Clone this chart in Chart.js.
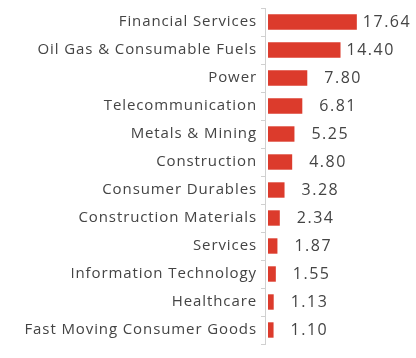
<!DOCTYPE html>
<html>
<head>
<meta charset="utf-8">
<script src="https://cdn.jsdelivr.net/npm/chart.js@4"></script>
<style>
  html, body { margin: 0; padding: 0; background: #fff; }
  #wrap { width: 416px; height: 358px; }
</style>
</head>
<body>
<div id="wrap"><canvas id="myChart"></canvas></div>
<script>
/* ===== DATA ===== */
const sectors = [
    'Financial Services',
    'Oil Gas & Consumable Fuels',
    'Power',
    'Telecommunication',
    'Metals & Mining',
    'Construction',
    'Consumer Durables',
    'Construction Materials',
    'Services',
    'Information Technology',
    'Healthcare',
    'Fast Moving Consumer Goods',
];
const weights = [17.64, 14.40, 7.80, 6.81, 5.25, 4.80, 3.28, 2.34, 1.87, 1.55, 1.13, 1.10];

const fontFamily = '"Open Sans", Lato, sans-serif';

/* ===== WIDE LETTERS (the original font is wide and thin) ===== */
const spacing = {
    id: 'spacing',
    beforeDraw(chart) {
        chart.ctx.letterSpacing = '0.9px';
    }
};

/* ===== VALUE LABELS ===== */
const valueLabels = {
    id: 'valueLabels',
    afterDatasetsDraw(chart) {
        const ctx = chart.ctx;
        const meta = chart.getDatasetMeta(0);
        ctx.save();
        ctx.letterSpacing = '1.5px';
        ctx.font = '16px ' + fontFamily;
        ctx.fillStyle = '#444';
        ctx.textBaseline = 'middle';
        ctx.textAlign = 'left';
        meta.data.forEach((bar, i) => {
            const txt = weights[i].toFixed(2);
            const w = ctx.measureText(txt).width;
            let x = bar.x + 17;
            if (x + w > 405) x = bar.x + 6;
            ctx.fillText(txt, x, bar.y);
        });
        ctx.restore();
    }
};

/* ===== Chart JS ===== */
var myChart = document.getElementById('myChart').getContext('2d');

var barChart = new Chart(myChart, {
    type: 'bar',
    data: {
        labels: sectors,
        datasets: [{
            data: weights,
            backgroundColor: '#dc3b2c',
            categoryPercentage: 1,
            barPercentage: 0.55,
        }],
    },
    options: {
        indexAxis: 'y',
        responsive: true,
        maintainAspectRatio: false,
        animation: false,
        layout: {
            padding: { top: 8, bottom: 14, right: 6, left: 0 }
        },
        scales: {
            x: {
                display: false,
                min: -0.6,
                max: 28.2,
            },
            y: {
                afterFit(scale) {
                    scale.width = 265;
                    // no extra room for half labels at the ends
                    scale.paddingTop = 0;
                    scale.paddingBottom = 0;
                },
                grid: {
                    drawOnChartArea: false,
                    tickLength: 4,
                    color: '#d0d0d0',
                },
                border: { color: '#d0d0d0' },
                ticks: {
                    color: '#444',
                    padding: 4,
                    font: { family: fontFamily, size: 15 },
                },
            },
        },
        plugins: {
            legend: { display: false },
            tooltip: { enabled: false },
        }
    },
    plugins: [spacing, valueLabels]
});
</script>
</body>
</html>
